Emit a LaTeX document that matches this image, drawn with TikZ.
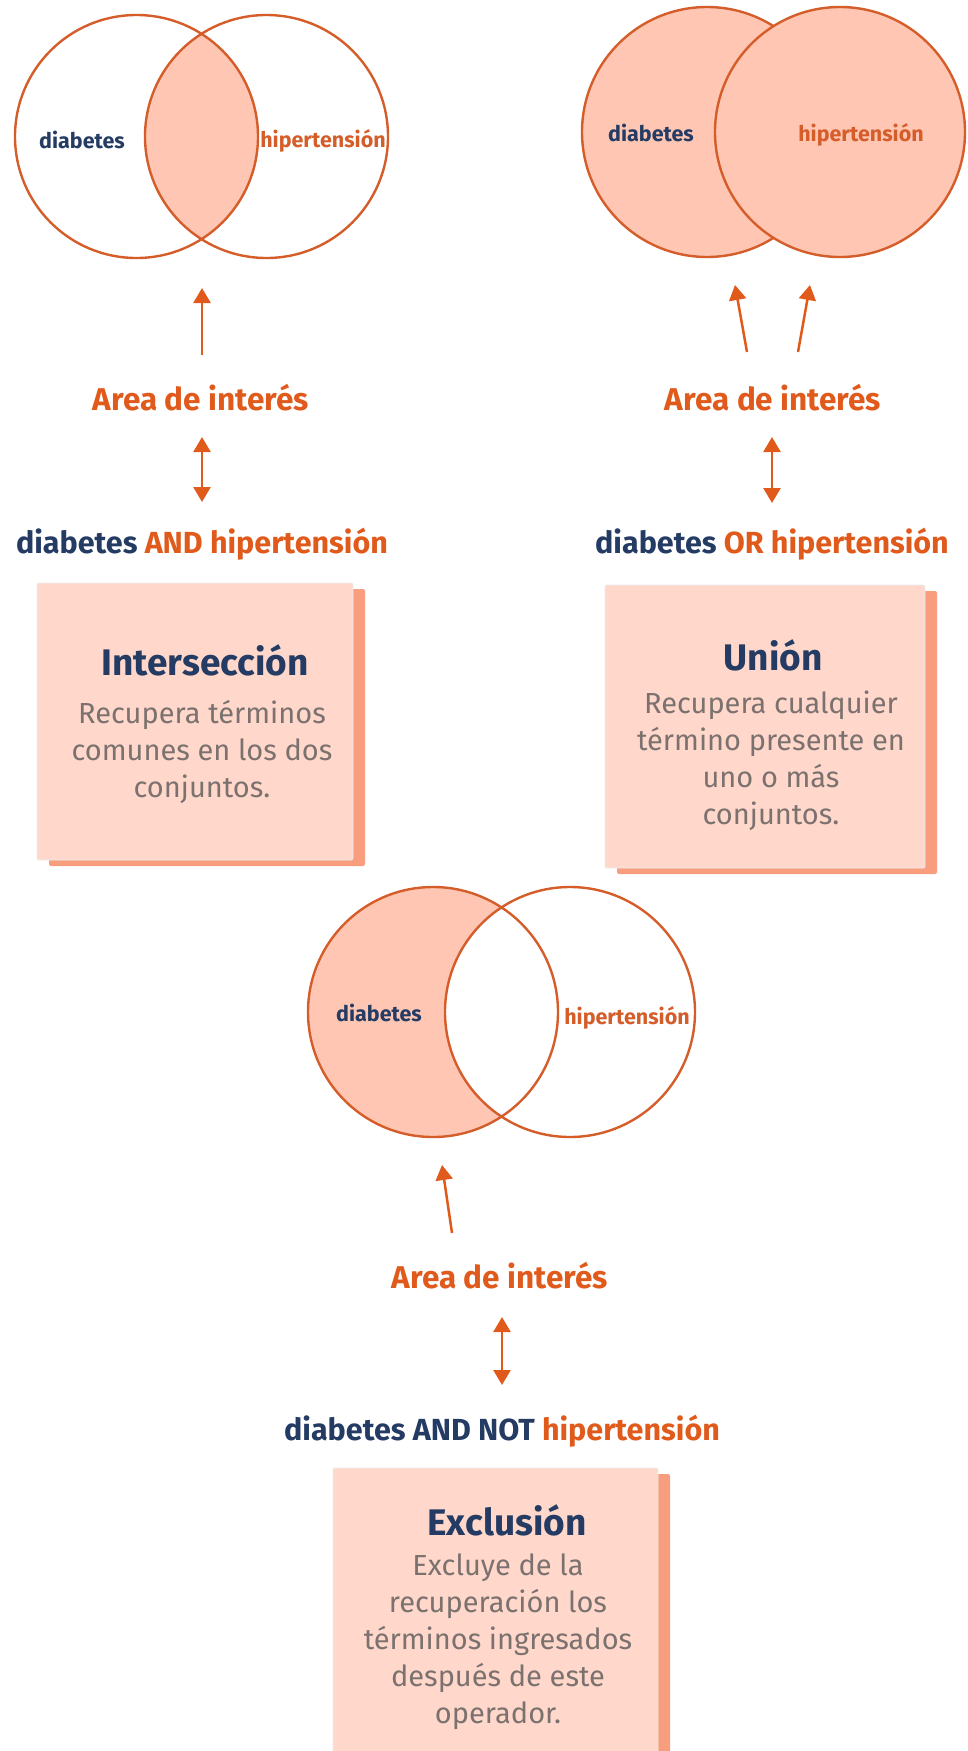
\documentclass[tikz,border=0pt]{standalone}
\usepackage{fontspec}
\setmainfont{Fira Sans}
\usetikzlibrary{arrows.meta}
\definecolor{oline}{HTML}{D45D2A}
\definecolor{otext}{HTML}{E05A1C}
\definecolor{navy}{HTML}{243B63}
\definecolor{cfill}{HTML}{FFC6B4}
\definecolor{boxfill}{HTML}{FFD7CB}
\definecolor{shadowc}{HTML}{F99D7F}
\definecolor{bodygray}{HTML}{7B716E}
\begin{document}
\begin{tikzpicture}[x=1pt,y=-1pt,
  vline/.style={draw=oline, line width=2.4pt},
  clabel/.style={font=\fontsize{21.5}{25}\selectfont\bfseries, inner sep=0},
  area/.style={font=\fontsize{31.5}{36}\selectfont\bfseries, text=otext, inner sep=0},
  query/.style={font=\fontsize{30.5}{34}\selectfont\bfseries, inner sep=0},
  ttl/.style={font=\fontsize{37}{42}\selectfont\bfseries, text=navy, inner sep=0},
  body/.style={font=\fontsize{29}{37}\selectfont, text=bodygray, align=center, inner sep=0},
  arr/.style={draw=otext, line width=2.5pt, -{Triangle[width=17pt,length=15pt]}},
  darr/.style={draw=otext, line width=2.5pt, {Triangle[width=17pt,length=15pt]}-{Triangle[width=17pt,length=15pt]}},
  card/.style={fill=boxfill, draw=black!8, line width=0.8pt, rounded corners=2pt},
  cardshadow/.style={fill=shadowc, rounded corners=2pt},
]
\useasboundingbox (0,0) rectangle (967,1751);

% ---------- Venn 1: intersection ----------
\coordinate (v1a) at (136.5,136.5);
\coordinate (v1b) at (266.5,136.5);
\begin{scope}
  \clip (v1a) circle[radius=121.5pt];
  \fill[cfill] (v1b) circle[radius=121.5pt];
\end{scope}
\draw[vline] (v1a) circle[radius=121.5pt];
\draw[vline] (v1b) circle[radius=121.5pt];
\node[clabel, text=navy] (v1l) at (82,140) {diabetes};
\node[clabel, text=oline] (v1r) at (323,141) {hipertensión};

% ---------- Venn 2: union ----------
\coordinate (v2a) at (707,132);
\coordinate (v2b) at (840,132);
\fill[cfill] (v2a) circle[radius=125pt];
\draw[vline] (v2a) circle[radius=125pt];
\filldraw[vline, fill=cfill] (v2b) circle[radius=125pt];
\node[clabel, text=navy] (v2l) at (651,133) {diabetes};
\node[clabel, text=oline] (v2r) at (861,135) {hipertensión};

% ---------- Venn 3: exclusion ----------
\coordinate (v3a) at (433,1012);
\coordinate (v3b) at (570,1012);
\fill[cfill] (v3a) circle[radius=125pt];
\fill[white] (v3b) circle[radius=125pt];
\draw[vline] (v3a) circle[radius=125pt];
\draw[vline] (v3b) circle[radius=125pt];
\node[clabel, text=navy] (v3l) at (379,1013) {diabetes};
\node[clabel, text=oline] (v3r) at (627,1018) {hipertensión};

% ---------- labels ----------
\node[area] (a1) at (201,398) {Area de interés};
\node[area] (a2) at (773,398) {Area de interés};
\node[area] (a3) at (500,1276) {Area de interés};

\node[query] (q1) at (202,544) {{\color{navy}diabetes} {\color{otext}AND hipertensión}};
\node[query] (q2) at (772,544) {{\color{navy}diabetes} {\color{otext}OR hipertensión}};
\node[query] (q3) at (502,1431) {{\color{navy}diabetes AND NOT} {\color{otext}hipertensión}};

% ---------- arrows ----------
\coordinate (s1) at (202,355); \coordinate (t1) at (202,288);
\draw[arr] (s1) -- (t1);
\coordinate (s2a) at (747,352); \coordinate (t2a) at (735,285);
\coordinate (s2b) at (798,352); \coordinate (t2b) at (810,285);
\draw[arr] (s2a) -- (t2a);
\draw[arr] (s2b) -- (t2b);
\coordinate (s3) at (452,1233); \coordinate (t3) at (442,1165);
\draw[arr] (s3) -- (t3);

\coordinate (d1a) at (202,437); \coordinate (d1b) at (202,502);
\draw[darr] (d1a) -- (d1b);
\coordinate (d2a) at (772,437); \coordinate (d2b) at (772,503);
\draw[darr] (d2a) -- (d2b);
\coordinate (d3a) at (502,1317); \coordinate (d3b) at (502,1385);
\draw[darr] (d3a) -- (d3b);

% ---------- cards ----------
\node[cardshadow, minimum width=316pt, minimum height=277pt] (b1s) at (207,727.5) {};
\node[card, minimum width=316pt, minimum height=277pt] (b1) at (195,721.5) {};
\node[ttl] (h1) at (205,660) {Intersección};
\node[body] (p1) at (202,752) {Recupera términos\\comunes en los dos\\conjuntos.};

\node[cardshadow, minimum width=320pt, minimum height=283pt] (b2s) at (777,732.5) {};
\node[card, minimum width=320pt, minimum height=283pt] (b2) at (765,726.5) {};
\node[ttl] (h2) at (773,655) {Unión};
\node[body] (p2) at (771,761) {Recupera cualquier\\término presente en\\uno o más\\conjuntos.};

\node[cardshadow, minimum width=325pt, minimum height=300pt] (b3s) at (507.5,1624) {};
\node[card, minimum width=325pt, minimum height=300pt] (b3) at (495.5,1618) {};
\node[ttl] (h3) at (507,1520) {Exclusión};
\node[body] (p3) at (498,1642) {Excluye de la\\recuperación los\\términos ingresados\\después de este\\operador.};
\end{tikzpicture}
\end{document}
